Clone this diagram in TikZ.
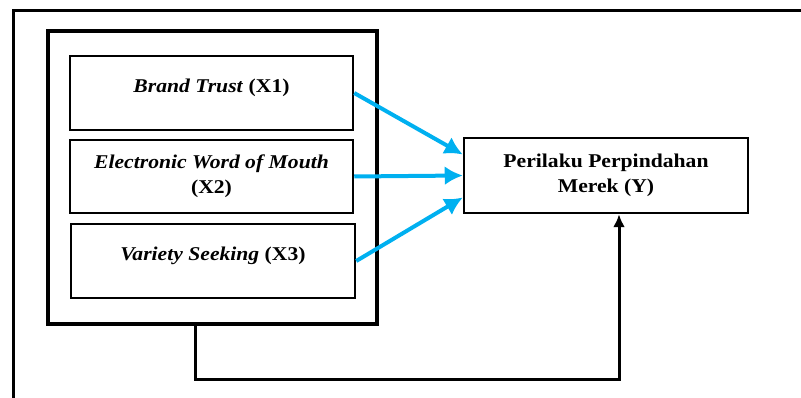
\documentclass[tikz,border=0pt]{standalone}
\usepackage{fontspec}
\setmainfont{Liberation Serif}[FakeStretch=1.11]
\usepackage{tikz}
\usetikzlibrary{arrows, arrows.meta}

\definecolor{arrowblue}{RGB}{0,176,240}

\begin{document}
\begin{tikzpicture}[
			x=1pt, y=-1pt,
			var style/.style={
				draw,
				line width=2.5pt,
				align=center,
				minimum width=283pt,
				minimum height=74pt,
				inner sep=0pt,
				font=\fontsize{19.5}{25}\selectfont\bfseries
			},
			one line/.style={text height=11pt, text depth=11pt},
			blue arrow/.style={arrowblue, line width=4pt, arrows={-Latex[length=18pt, width=19pt]}},
			>=latex
			]
			
			\useasboundingbox (0,0) rectangle (801,398);
			
			% outer frame
			\draw[line width=3pt] (13,420) -- (13,11) -- (820,11);
			
			\node[draw, line width=4pt, minimum width=329pt, minimum height=293pt] (grp) at (212.5,177.5) {};
			
			\node[var style, one line] (X1) at (211.5,93) 
			{\textit{Brand Trust} (X1)};
			\node[var style, minimum height=73pt] (X2) at (211.5,176.5) 
			{\textit{Electronic Word of Mouth}\\(X2)};
			\node[var style, one line, minimum width=284pt] (X3) at (213,261) 
			{\textit{Variety Seeking} (X3)};
			
			\node[var style, minimum width=284pt, minimum height=75pt] (Y) at (606,175.5) 
			{Perilaku Perpindahan\\Merek (Y)};
			
			\draw[blue arrow] (X1.east) -- ([yshift=21pt]Y.west);
			\draw[blue arrow] (X2.east) -- (Y.west);
			\draw[blue arrow] (X3.east) -- ([yshift=-22pt]Y.west);
			
			\draw[line width=3pt, arrows={-Latex[length=13pt, width=12pt]}] ([xshift=-17.5pt]grp.south) -- ++(0,53) -| ([xshift=13pt]Y.south);
			
		\end{tikzpicture}
\end{document}
